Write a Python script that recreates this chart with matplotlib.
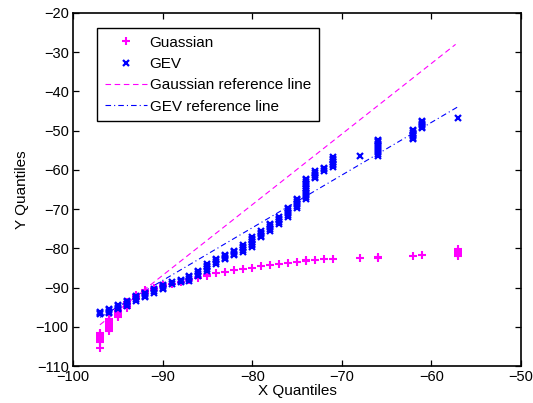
import matplotlib
matplotlib.use('Agg')
import matplotlib.pyplot as plt

# x quantile columns and the y quantiles stacked on each of them
gev_cols = [-97, -96, -95, -94, -93, -92, -91, -90, -89, -88, -87, -86, -85, -84,
            -83, -82, -81, -80, -79, -78, -77, -76, -75, -74, -73, -72, -71,
            -68, -66, -62, -61, -57]
gev_vals = [
    [-96.8, -96.5, -96.3],
    [-96.6, -96.2, -95.8, -95.5],
    [-95.5, -95.1, -94.7, -94.4],
    [-94.7, -94.3, -93.8, -93.4],
    [-93.4, -93.0, -92.5, -92.1],
    [-92.5, -92.1, -91.7, -91.4],
    [-91.3, -90.9, -90.4],
    [-90.4, -90.0, -89.6, -89.3],
    [-89.1, -88.7],
    [-88.7, -88.3, -88.0],
    [-88.3, -87.9, -87.4, -87.0],
    [-87.0, -86.6, -86.1, -85.7],
    [-85.7, -85.3, -84.8, -84.4, -84.0],
    [-83.9, -83.5, -83.1, -82.8],
    [-82.8, -82.4, -82.0, -81.7],
    [-81.8, -81.4, -81.0, -80.7],
    [-80.9, -80.5, -80.0, -79.6, -79.2],
    [-79.6, -79.2, -78.8, -78.4, -78.0, -77.6, -77.2],
    [-77.2, -76.8, -76.4, -76.0, -75.7],
    [-75.5, -75.1, -74.6, -74.1, -73.7],
    [-73.7, -73.3, -72.8, -72.4, -72.0],
    [-72.1, -71.6, -71.1, -70.6, -70.1, -69.6],
    [-69.6, -69.1, -68.6, -68.1, -67.7, -67.3],
    [-67.5, -67.0, -66.5, -66.0, -65.5, -65.0, -64.5, -64.0, -63.5, -63.0, -62.6, -62.2],
    [-62.1, -61.7, -61.2, -60.8, -60.4],
    [-60.2, -59.8, -59.4],
    [-59.2, -58.8, -58.4, -58.0, -57.6, -57.2, -56.8],
    [-56.5],
    [-56.4, -56.0, -55.5, -55.0, -54.5, -54.0, -53.5, -53.0, -52.6, -52.3],
    [-52.2, -51.8, -51.4, -51.0, -50.6, -50.2, -49.8],
    [-49.4, -49.0, -48.6, -48.2, -47.8, -47.5],
    [-46.8],
]

gauss_cols = gev_cols
gauss_vals = [
    [-105.5, -104.0, -103.6, -103.1, -102.7, -102.3, -101.9, -101.5],
    [-101.0, -100.6, -100.2, -99.8, -99.4, -98.9, -98.5, -98.1],
    [-97.6, -97.2, -96.8, -96.4, -96.0, -95.6],
    [-95.2, -94.8, -94.4, -94.0, -93.6],
    [-93.0, -92.6, -92.2, -91.8],
    [-91.5, -91.1, -90.7],
    [-90.5, -90.1],
    [-89.6, -89.3],
    [-89.0],
    [-88.6],
    [-88.1],
    [-87.6],
    [-87.0, -86.7],
    [-86.4],
    [-86.0],
    [-85.6],
    [-85.2],
    [-84.9],
    [-84.6],
    [-84.3],
    [-84.0],
    [-83.8],
    [-83.5],
    [-83.3, -83.0],
    [-82.9],
    [-82.7],
    [-82.6],
    [-82.5],
    [-82.5, -82.1],
    [-81.9],
    [-81.8],
    [-82.0, -81.6, -81.1, -80.6, -80.1],
]

# reference line end points
gauss_ref_x = [-97, -57.3]
gauss_ref_y = [-99.5, -28.0]
gev_ref_x = [-97, -57.1]
gev_ref_y = [-97.6, -44.0]


def flatten(cols, vals):
    xs, ys = [], []
    for c, v in zip(cols, vals):
        for y in v:
            xs.append(c)
            ys.append(y)
    return xs, ys


plt.rcParams['font.family'] = ['Liberation Sans', 'DejaVu Sans']
plt.rcParams['lines.scale_dashes'] = False

fig = plt.figure(figsize=(5.33, 4.03), dpi=100)
ax = fig.add_axes([0.137, 0.0918, 0.8405, 0.876])

gx, gy = flatten(gauss_cols, gauss_vals)
ex, ey = flatten(gev_cols, gev_vals)

ax.plot(gx, gy, '+', color='#ff00ff', markersize=6, markeredgewidth=1.5,
        label='Guassian', zorder=3)
ax.plot(ex, ey, 'x', color='#0000ff', markersize=4.5, markeredgewidth=1.6,
        label='GEV', zorder=4)
ax.plot(gauss_ref_x, gauss_ref_y, color='#ff00ff', lw=0.8, dashes=(4, 2.6),
        label='Gaussian reference line', zorder=2)
ax.plot(gev_ref_x, gev_ref_y, color='#0000ff', lw=0.8, dashes=(4, 2.2, 0.8, 2.2),
        label='GEV reference line', zorder=2)

ax.set_xlim(-100, -50)
ax.set_ylim(-110, -20)
ax.set_xticks(range(-100, -49, 10))
ax.set_yticks(range(-110, -19, 10))
ax.tick_params(direction='in', length=4, width=0.9, top=True, right=True,
               labelsize=10.5, pad=3)
for s in ax.spines.values():
    s.set_linewidth(1.2)

ax.set_xlabel('X Quantiles', fontsize=11, labelpad=0)
ax.set_ylabel('Y Quantiles', fontsize=11, labelpad=5)

leg = ax.legend(loc='upper left', bbox_to_anchor=(0.0536, 0.9575),
                borderaxespad=0, fancybox=False, fontsize=11,
                handlelength=2.8, handletextpad=0.15, labelspacing=0.48,
                borderpad=0.5, framealpha=1)
leg.get_frame().set_edgecolor('black')
leg.get_frame().set_linewidth(1.0)

fig.savefig('out.png', dpi=100)
